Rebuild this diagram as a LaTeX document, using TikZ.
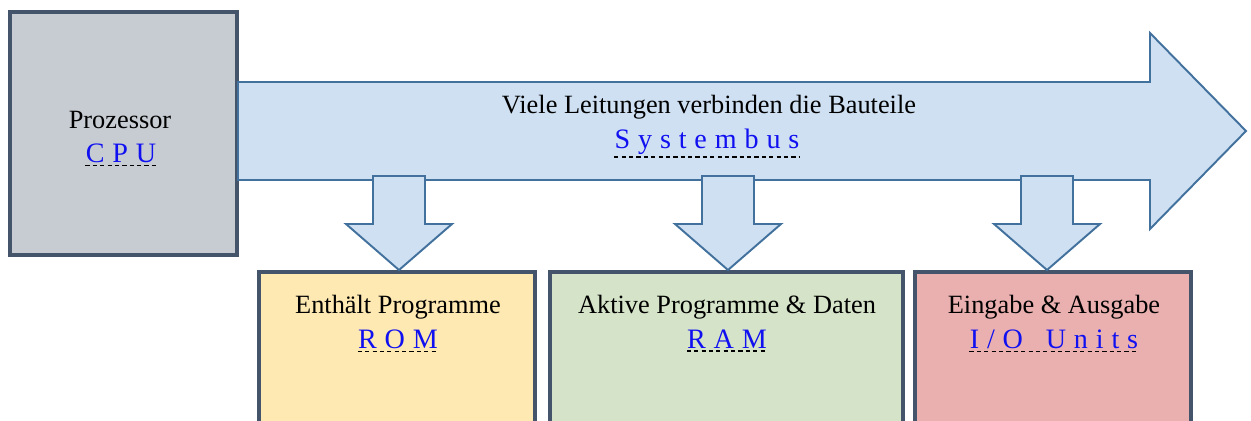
\documentclass[tikz,border=0pt]{standalone}
\usepackage{fontspec}
\setmainfont{Liberation Serif}
\definecolor{frame}{HTML}{44546A}
\definecolor{cpufill}{HTML}{C7CCD3}
\definecolor{busfill}{HTML}{CFE0F2}
\definecolor{busline}{HTML}{41719C}
\definecolor{romfill}{HTML}{FEE9B2}
\definecolor{ramfill}{HTML}{D5E4C8}
\definecolor{iofill}{HTML}{EAB0B0}
\definecolor{linkblue}{HTML}{1010F0}
\newcommand{\ls}{\hspace{0.28em}}
\tikzset{
  txt/.style={anchor=base, inner sep=0pt, font=\fontsize{15}{18}\selectfont},
  link/.style={txt, text=linkblue, font=\fontsize{16}{19}\selectfont},
  uline/.style={black, line width=0.9pt, dash pattern=on 2.4pt off 1.8pt},
  unit/.style={draw=frame, line width=2.2pt},
  bus/.style={draw=busline, fill=busfill, line width=1.1pt, line join=miter},
}
\begin{document}
\begin{tikzpicture}[x=0.02cm, y=-0.02cm]

  \useasboundingbox (0,0) rectangle (1251,420);
  \clip (0,0) rectangle (1251,420);

  % processor
  \draw[unit, fill=cpufill] (10,12) rectangle (237,255);

  % system bus
  \draw[bus] (238,82) -- (1150,82) -- (1150,33) -- (1246,131)
    -- (1150,229) -- (1150,180) -- (238,180) -- cycle;

  % memory and units
  \draw[unit, fill=romfill] (259,272) rectangle (535,440);
  \draw[unit, fill=ramfill] (550,272) rectangle (903,440);
  \draw[unit, fill=iofill] (915,272) rectangle (1191,440);

  % bus to units
  \foreach \x in {399,728,1047}
    \draw[bus] (\x-26,176) -- (\x+26,176) -- (\x+26,224) -- (\x+53,224)
      -- (\x,270) -- (\x-53,224) -- (\x-26,224) -- cycle;

  \node[txt] (cpuTxt) at (120,128) {Prozessor};
  \node[link] (cpuLink) at (121,162) {C\ls P\ls U\ls};
  \node[txt] (busTxt) at (709,113) {Viele Leitungen verbinden die Bauteile};
  \node[link] (busLink) at (707,148) {S\ls y\ls s\ls t\ls e\ls m\ls b\ls u\ls s\ls};
  \node[txt] (romTxt) at (398,313) {Enthält Programme};
  \node[link] (romLink) at (398,348) {R\ls O\ls M\ls};
  \node[txt] (ramTxt) at (727,313) {Aktive Programme \& Daten};
  \node[link] (ramLink) at (727,348) {R\ls A\ls M\ls};
  \node[txt] (ioTxt) at (1054,313) {Eingabe \& Ausgabe};
  \node[link] (ioLink) at (1054,348) {I\ls/\ls O\ls\ \ls U\ls n\ls i\ls t\ls s\ls};

  % dotted underlines
  \foreach \n in {cpuLink,busLink,romLink,ramLink,ioLink}
    \draw[uline] ([yshift=-1.6pt]\n.south west) -- ([yshift=-1.6pt]\n.south east);

\end{tikzpicture}
\end{document}
